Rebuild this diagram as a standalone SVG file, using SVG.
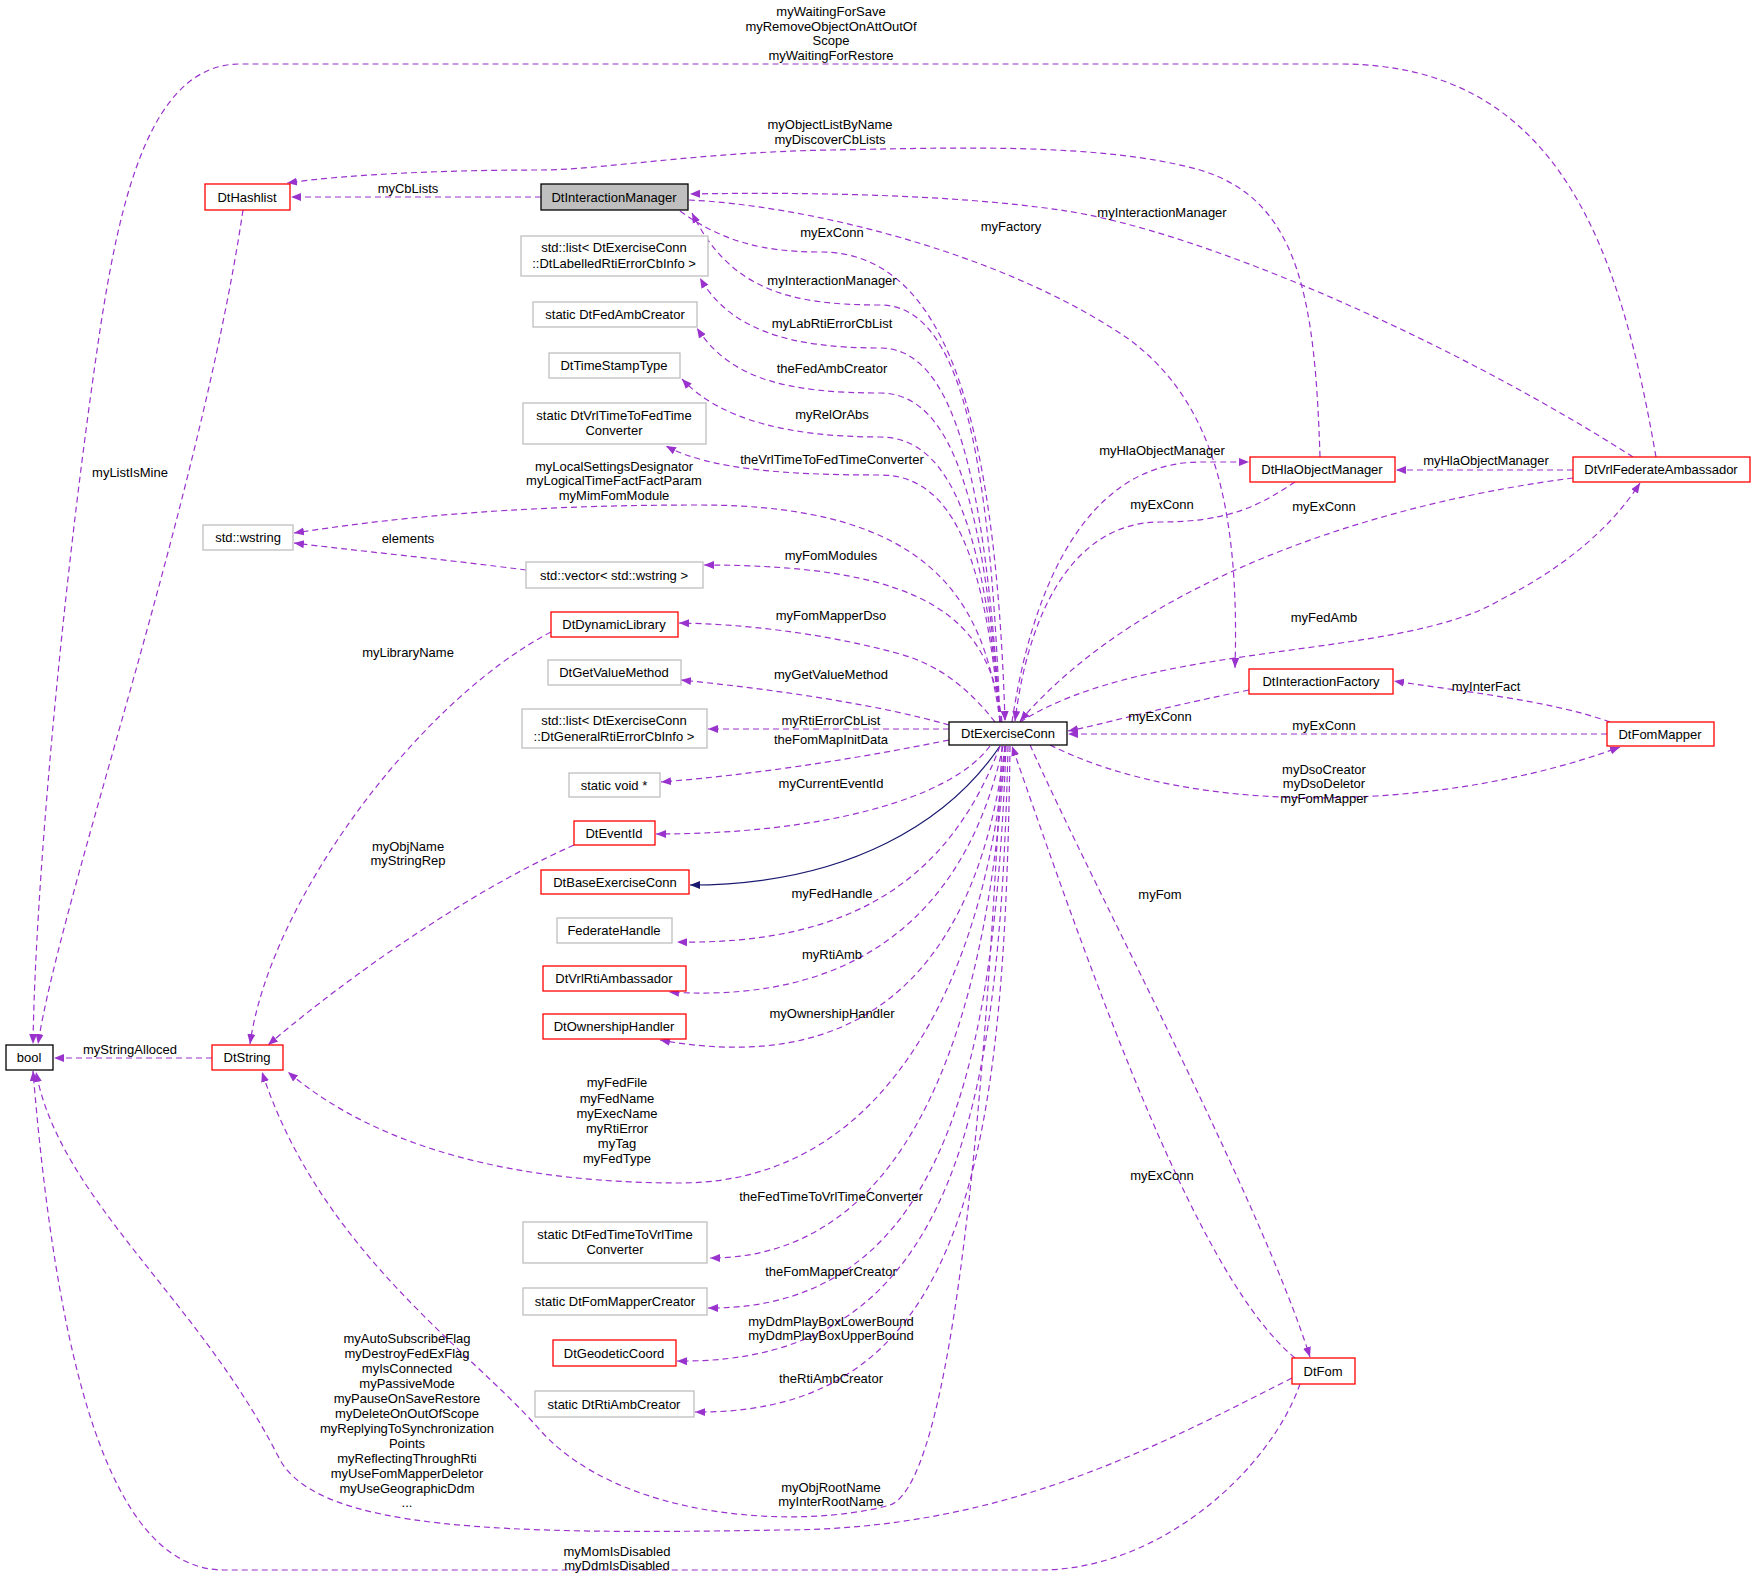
<svg xmlns="http://www.w3.org/2000/svg" width="1755" height="1575" viewBox="0 0 1755 1575">
<style>
text{font-family:"Liberation Sans",Arial,sans-serif;font-size:13px;text-anchor:middle;fill:#000}
.n rect{fill:#fff;stroke-width:1.3}
.red rect{stroke:#ff0000}
.gr rect{stroke:#bfbfbf}
.blk rect{stroke:#000}
.e path{fill:none;stroke:#9a32cd;stroke-width:1.2;stroke-dasharray:6,4;marker-end:url(#a)}
.e path.inh{stroke:#191970;stroke-dasharray:none;marker-end:url(#b)}
</style>
<defs>
<marker id="a" viewBox="0 0 10 10" refX="10" refY="5" markerWidth="10" markerHeight="10" markerUnits="userSpaceOnUse" orient="auto"><path d="M0,1 L10,5 L0,9 z" fill="#9a32cd"/></marker>
<marker id="b" viewBox="0 0 10 10" refX="10" refY="5" markerWidth="10" markerHeight="10" markerUnits="userSpaceOnUse" orient="auto"><path d="M0,1 L10,5 L0,9 z" fill="#191970"/></marker>
</defs>
<rect width="1755" height="1575" fill="#fff"/>
<g class="e" id="edges">
<path d="M541,197 L291,197"/>
<path d="M1320,457 C1315,300 1300,200 1200,170 C1100,142 950,148 830,150 C700,152 600,170 540,170 C450,170 350,174 287,183"/>
<path d="M1656,457 C1620,250 1560,64 1340,64 L240,64 C150,64 120,200 100,330 C60,600 35,900 33,1044"/>
<path d="M243,210 C200,500 60,900 38,1044"/>
<path d="M1633,457 C1450,340 1200,230 1060,210 C950,194 800,192 690,194"/>
<path d="M689,200 C800,205 1000,250 1130,340 C1210,400 1240,500 1235,668"/>
<path d="M1012,722 C1030,600 1080,463 1200,462 L1249,462"/>
<path d="M1295,482 C1260,505 1230,522 1160,522 C1080,522 1030,600 1015,721"/>
<path d="M1573,470 L1396,470"/>
<path d="M1573,478 C1400,500 1150,570 1020,721"/>
<path d="M1020,722 C1150,640 1400,660 1500,600 C1560,570 1610,530 1640,483"/>
<path d="M1249,690 C1150,710 1100,725 1068,731"/>
<path d="M1610,722 C1550,700 1450,690 1394,681"/>
<path d="M1607,734 L1068,734"/>
<path d="M1050,745 C1200,820 1450,810 1620,747"/>
<path d="M1030,745 C1100,900 1260,1200 1310,1357"/>
<path d="M1295,1358 C1200,1280 1100,1000 1012,746"/>
<path d="M1300,1384 C1270,1470 1160,1570 1040,1570 L224,1570 C120,1570 60,1400 33,1071"/>
<path d="M1292,1378 C1150,1450 1000,1530 780,1530 C500,1535 320,1530 280,1460 C200,1300 60,1200 36,1072"/>
<path d="M1002,746 C990,1000 960,1480 890,1505 C800,1530 620,1520 540,1430 C470,1350 320,1250 262,1072"/>
<path d="M1005,746 C990,950 900,1183 680,1183 C520,1183 380,1150 288,1072"/>
<path d="M212,1058 L54,1058"/>
<path d="M551,632 C420,700 270,900 250,1044"/>
<path d="M574,845 C450,900 320,1000 268,1045"/>
<path d="M526,570 C450,560 350,550 294,543"/>
<path d="M1000,722 C985,600 930,505 700,505 C500,505 380,520 294,533"/>
<path d="M1002,722 C990,620 930,565 704,565"/>
<path d="M995,722 C970,690 940,665 900,654 C820,632 740,624 679,623"/>
<path d="M949,725 C880,705 780,690 681,680"/>
<path d="M949,729 L708,729"/>
<path d="M949,740 C850,760 750,775 661,782"/>
<path d="M990,746 C950,800 820,834 656,834"/>
<path class="inh" d="M1000,746 C950,820 850,885 690,885"/>
<path d="M1000,746 C950,880 850,945 677,942"/>
<path d="M1003,746 C970,900 870,1005 669,992"/>
<path d="M1005,746 C980,950 880,1080 660,1040"/>
<path d="M1005,746 C990,1000 920,1258 710,1258"/>
<path d="M1006,746 C995,1050 950,1310 708,1308"/>
<path d="M1008,746 C1000,1100 960,1365 677,1361"/>
<path d="M1010,746 C1005,1150 970,1415 695,1412"/>
<path d="M680,211 C720,240 760,252 820,252 C940,252 995,400 1005,721"/>
<path d="M1000,722 C990,450 960,305 880,305 C790,305 730,290 692,213"/>
<path d="M1000,722 C985,480 955,348 880,348 C790,348 730,330 700,278"/>
<path d="M1000,722 C985,510 955,393 880,393 C790,393 730,380 697,328"/>
<path d="M1000,722 C985,540 955,437 880,437 C790,437 720,420 682,379"/>
<path d="M1000,722 C985,560 955,475 880,475 C790,475 710,470 666,446"/>
</g>
<g id="labels">
<text x="831" y="16">myWaitingForSave</text>
<text x="831" y="31">myRemoveObjectOnAttOutOf</text>
<text x="831" y="45">Scope</text>
<text x="831" y="60">myWaitingForRestore</text>
<text x="830" y="129">myObjectListByName</text>
<text x="830" y="144">myDiscoverCbLists</text>
<text x="408" y="193">myCbLists</text>
<text x="1162" y="217">myInteractionManager</text>
<text x="1011" y="231">myFactory</text>
<text x="832" y="237">myExConn</text>
<text x="832" y="285">myInteractionManager</text>
<text x="832" y="328">myLabRtiErrorCbList</text>
<text x="832" y="373">theFedAmbCreator</text>
<text x="832" y="419">myRelOrAbs</text>
<text x="832" y="464">theVrlTimeToFedTimeConverter</text>
<text x="614" y="471">myLocalSettingsDesignator</text>
<text x="614" y="485">myLogicalTimeFactFactParam</text>
<text x="614" y="500">myMimFomModule</text>
<text x="130" y="477">myListIsMine</text>
<text x="1162" y="455">myHlaObjectManager</text>
<text x="1486" y="465">myHlaObjectManager</text>
<text x="1162" y="509">myExConn</text>
<text x="1324" y="511">myExConn</text>
<text x="408" y="543">elements</text>
<text x="831" y="560">myFomModules</text>
<text x="831" y="620">myFomMapperDso</text>
<text x="1324" y="622">myFedAmb</text>
<text x="408" y="657">myLibraryName</text>
<text x="831" y="679">myGetValueMethod</text>
<text x="1486" y="691">myInterFact</text>
<text x="831" y="725">myRtiErrorCbList</text>
<text x="1160" y="721">myExConn</text>
<text x="1324" y="730">myExConn</text>
<text x="831" y="744">theFomMapInitData</text>
<text x="1324" y="774">myDsoCreator</text>
<text x="1324" y="788">myDsoDeletor</text>
<text x="1324" y="803">myFomMapper</text>
<text x="831" y="788">myCurrentEventId</text>
<text x="408" y="851">myObjName</text>
<text x="408" y="865">myStringRep</text>
<text x="832" y="898">myFedHandle</text>
<text x="1160" y="899">myFom</text>
<text x="832" y="959">myRtiAmb</text>
<text x="832" y="1018">myOwnershipHandler</text>
<text x="130" y="1054">myStringAlloced</text>
<text x="617" y="1087">myFedFile</text>
<text x="617" y="1103">myFedName</text>
<text x="617" y="1118">myExecName</text>
<text x="617" y="1133">myRtiError</text>
<text x="617" y="1148">myTag</text>
<text x="617" y="1163">myFedType</text>
<text x="1162" y="1180">myExConn</text>
<text x="831" y="1201">theFedTimeToVrlTimeConverter</text>
<text x="831" y="1276">theFomMapperCreator</text>
<text x="831" y="1326">myDdmPlayBoxLowerBound</text>
<text x="831" y="1340">myDdmPlayBoxUpperBound</text>
<text x="831" y="1383">theRtiAmbCreator</text>
<text x="407" y="1343">myAutoSubscribeFlag</text>
<text x="407" y="1358">myDestroyFedExFlag</text>
<text x="407" y="1373">myIsConnected</text>
<text x="407" y="1388">myPassiveMode</text>
<text x="407" y="1403">myPauseOnSaveRestore</text>
<text x="407" y="1418">myDeleteOnOutOfScope</text>
<text x="407" y="1433">myReplyingToSynchronization</text>
<text x="407" y="1448">Points</text>
<text x="407" y="1463">myReflectingThroughRti</text>
<text x="407" y="1478">myUseFomMapperDeletor</text>
<text x="407" y="1493">myUseGeographicDdm</text>
<text x="407" y="1507">...</text>
<text x="831" y="1492">myObjRootName</text>
<text x="831" y="1506">myInterRootName</text>
<text x="617" y="1556">myMomIsDisabled</text>
<text x="617" y="1570">myDdmIsDisabled</text>
</g>
<g id="n_hashlist" class="n red"><rect x="205" y="184" width="85" height="26"/><text x="247" y="202">DtHashlist</text></g>
<g id="n_im" class="n"><rect x="541" y="184" width="147" height="26" style="fill:#bfbfbf;stroke:#000"/><text x="614" y="202">DtInteractionManager</text></g>
<g id="n_lablist" class="n gr"><rect x="521" y="236" width="187" height="40"/><text x="614" y="252">std::list&lt; DtExerciseConn</text><text x="614" y="268">::DtLabelledRtiErrorCbInfo &gt;</text></g>
<g id="n_fedamb" class="n gr"><rect x="533" y="302" width="164" height="25"/><text x="615" y="319">static DtFedAmbCreator</text></g>
<g id="n_ts" class="n gr"><rect x="549" y="353" width="131" height="25"/><text x="614" y="370">DtTimeStampType</text></g>
<g id="n_vrl2fed" class="n gr"><rect x="523" y="403" width="183" height="41"/><text x="614" y="420">static DtVrlTimeToFedTime</text><text x="614" y="435">Converter</text></g>
<g id="n_wstring" class="n gr"><rect x="203" y="525" width="90" height="25"/><text x="248" y="542">std::wstring</text></g>
<g id="n_vector" class="n gr"><rect x="526" y="562" width="177" height="26"/><text x="614" y="580">std::vector&lt; std::wstring &gt;</text></g>
<g id="n_dynlib" class="n red"><rect x="551" y="612" width="127" height="25"/><text x="614" y="629">DtDynamicLibrary</text></g>
<g id="n_gvm" class="n gr"><rect x="548" y="660" width="133" height="25"/><text x="614" y="677">DtGetValueMethod</text></g>
<g id="n_genlist" class="n gr"><rect x="522" y="709" width="185" height="39"/><text x="614" y="725">std::list&lt; DtExerciseConn</text><text x="614" y="741">::DtGeneralRtiErrorCbInfo &gt;</text></g>
<g id="n_void" class="n gr"><rect x="569" y="773" width="91" height="24"/><text x="614" y="790">static void *</text></g>
<g id="n_eventid" class="n red"><rect x="574" y="821" width="81" height="24"/><text x="614" y="838">DtEventId</text></g>
<g id="n_base" class="n red"><rect x="541" y="870" width="148" height="24"/><text x="615" y="887">DtBaseExerciseConn</text></g>
<g id="n_fh" class="n gr"><rect x="557" y="918" width="115" height="25"/><text x="614" y="935">FederateHandle</text></g>
<g id="n_rtiamb" class="n red"><rect x="543" y="966" width="143" height="25"/><text x="614" y="983">DtVrlRtiAmbassador</text></g>
<g id="n_own" class="n red"><rect x="543" y="1014" width="143" height="25"/><text x="614" y="1031">DtOwnershipHandler</text></g>
<g id="n_bool" class="n blk"><rect x="6" y="1045" width="47" height="25"/><text x="29" y="1062">bool</text></g>
<g id="n_string" class="n red"><rect x="212" y="1045" width="71" height="25"/><text x="247" y="1062">DtString</text></g>
<g id="n_fed2vrl" class="n gr"><rect x="523" y="1222" width="184" height="41"/><text x="615" y="1239">static DtFedTimeToVrlTime</text><text x="615" y="1254">Converter</text></g>
<g id="n_fmc" class="n gr"><rect x="523" y="1288" width="184" height="27"/><text x="615" y="1306">static DtFomMapperCreator</text></g>
<g id="n_geo" class="n red"><rect x="553" y="1340" width="123" height="26"/><text x="614" y="1358">DtGeodeticCoord</text></g>
<g id="n_rac" class="n gr"><rect x="535" y="1391" width="159" height="26"/><text x="614" y="1409">static DtRtiAmbCreator</text></g>
<g id="n_exconn" class="n blk"><rect x="949" y="722" width="118" height="23"/><text x="1008" y="738">DtExerciseConn</text></g>
<g id="n_hlaom" class="n red"><rect x="1250" y="457" width="145" height="25"/><text x="1322" y="474">DtHlaObjectManager</text></g>
<g id="n_vrlfed" class="n red"><rect x="1573" y="457" width="177" height="25"/><text x="1661" y="474">DtVrlFederateAmbassador</text></g>
<g id="n_if" class="n red"><rect x="1249" y="669" width="144" height="25"/><text x="1321" y="686">DtInteractionFactory</text></g>
<g id="n_fm" class="n red"><rect x="1607" y="722" width="107" height="24"/><text x="1660" y="739">DtFomMapper</text></g>
<g id="n_fom" class="n red"><rect x="1292" y="1358" width="63" height="26"/><text x="1323" y="1376">DtFom</text></g>
</svg>
